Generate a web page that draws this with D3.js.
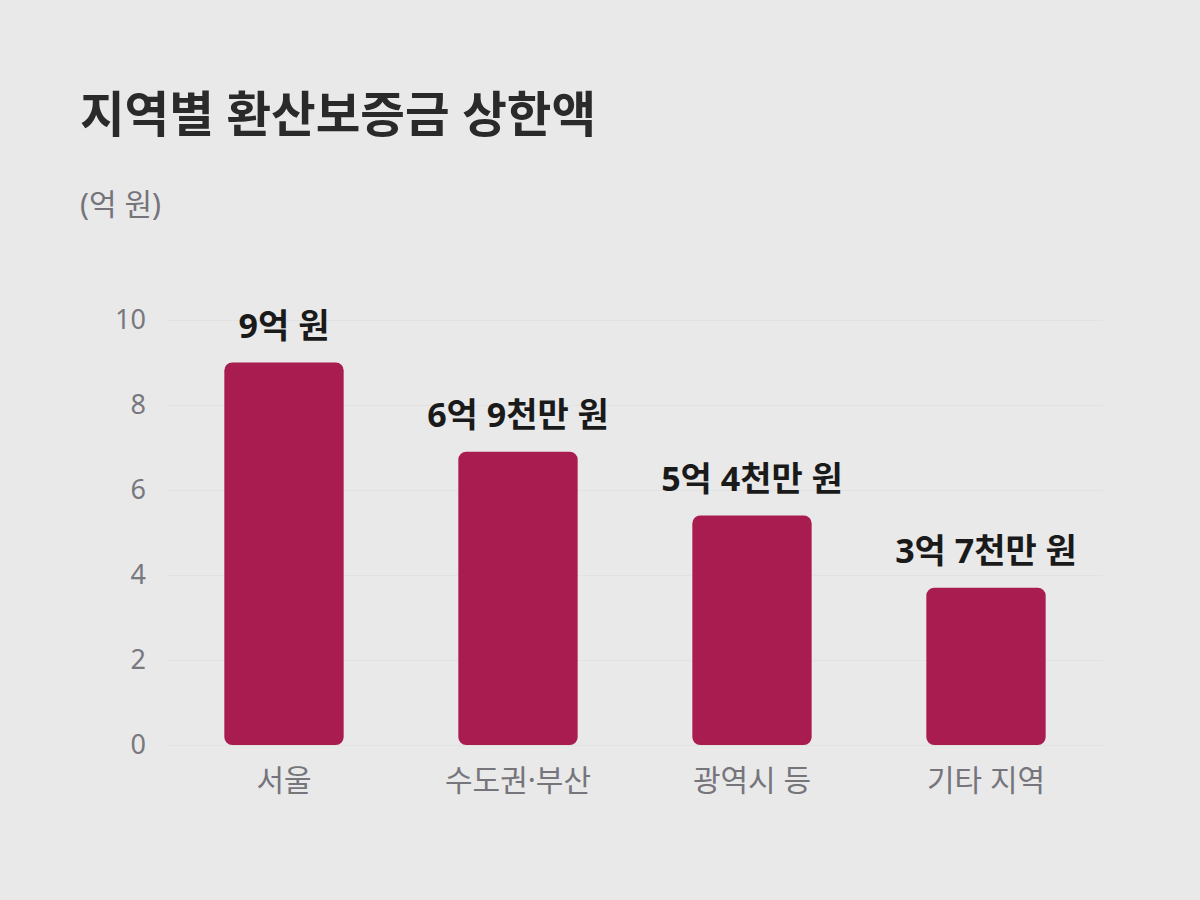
<!DOCTYPE html>
<html><head><meta charset="utf-8">
<script src="https://cdn.jsdelivr.net/npm/d3@7"></script>
<style>
html,body{margin:0;padding:0;background:#e9e9e9;}
text{font-family:"Noto Sans","Noto Sans CJK KR",sans-serif;}
</style></head>
<body><svg id="chart" width="1200" height="900"></svg>
<script>
const categories = ["서울", "수도권·부산", "광역시 등", "기타 지역"];
const values = [9, 6.9, 5.4, 3.7];
const valueLabels = ["9억 원", "6억 9천만 원", "5억 4천만 원", "3억 7천만 원"];
const yTicks = [0, 2, 4, 6, 8, 10];
const title = "지역별 환산보증금 상한액";
const unit = "(억 원)";

const FONT = "\"Noto Sans\",\"Noto Sans CJK KR\",sans-serif";
const svg = d3.select("#chart");
svg.append("rect").attr("width",1200).attr("height",900).attr("fill","#e9e9e9");

const x = d3.scaleBand().domain(categories).range([167,1103]).paddingInner(0.49).paddingOuter(0.245);
const y = d3.scaleLinear().domain([0,10]).range([745,320]);

svg.append("text").attr("x",80).attr("y",132).attr("font-size",48.5).attr("font-weight",700)
  .attr("fill","#2a2a2a").text(title);
svg.append("text").attr("x",80).attr("y",215).attr("font-size",30)
  .attr("fill","#74747a").text(unit);

const yAxis = d3.axisLeft(y).tickValues(yTicks).tickSize(-(1103-167)).tickPadding(21).tickFormat(d3.format("d"));
const gy = svg.append("g").attr("transform","translate(167,0)").call(yAxis);
gy.select(".domain").remove();
gy.selectAll(".tick line").attr("stroke","#e2e2e2").attr("stroke-width",1);
gy.selectAll(".tick text").attr("fill","#78787e").attr("font-size",27).attr("font-family",FONT);

const xAxis = d3.axisBottom(x).tickSize(0).tickPadding(25);
const gx = svg.append("g").attr("transform","translate(0,745)").call(xAxis);
gx.select(".domain").remove();
gx.selectAll(".tick text").attr("fill","#75757b").attr("font-size",30).attr("font-family",FONT);

svg.append("g").selectAll("rect").data(values).join("rect")
  .attr("x",(d,i)=>x(categories[i])).attr("width",x.bandwidth())
  .attr("y",d=>y(d)).attr("height",d=>y(0)-y(d))
  .attr("rx",8).attr("ry",8).attr("fill","#a81c50");

svg.append("g").selectAll("text").data(values).join("text")
  .attr("x",(d,i)=>x(categories[i])+x.bandwidth()/2).attr("y",d=>y(d)-25)
  .attr("text-anchor","middle").attr("font-size",34).attr("font-weight",700)
  .attr("fill","#1a1a1a").text((d,i)=>valueLabels[i]);
</script></body></html>
